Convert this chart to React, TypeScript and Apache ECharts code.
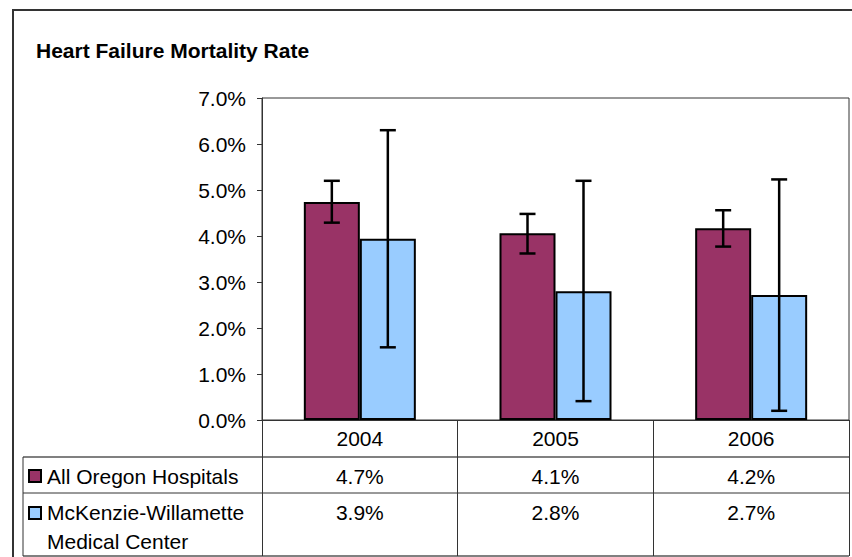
import { useEffect, useRef } from 'react';
import * as echarts from 'echarts';

const titleText = 'Heart Failure Mortality Rate';
const categories = ['2004', '2005', '2006'];
const seriesNames = ['All Oregon Hospitals', 'McKenzie-Willamette\nMedical Center'];
const oregonValues = [4.74, 4.06, 4.17];
const oregonHigh = [5.2, 4.48, 4.56];
const oregonLow = [4.29, 3.62, 3.77];
const mwValues = [3.94, 2.8, 2.72];
const mwHigh = [6.3, 5.2, 5.23];
const mwLow = [1.58, 0.41, 0.2];
const yMin = 0;
const yMax = 7;
const yInterval = 1;

const FONT = '"Liberation Sans", Arial, Helvetica, sans-serif';
const FS = 21;
const MAROON = '#993366';
const BLUE = '#99CCFF';
const LINE = '#333333';
const GRAY = '#808080';

const BAR_W = 56;
const CAP = 8;

function errorSeries(high: number[], low: number[], offset: number) {
  return {
    type: 'custom',
    silent: true,
    z: 10,
    encode: { x: 0, y: [1, 2] },
    data: categories.map((_, i) => [i, low[i], high[i]]),
    renderItem: (_p: any, api: any) => {
      const i = api.value(0);
      const top = api.coord([i, api.value(2)]);
      const bot = api.coord([i, api.value(1)]);
      const x = top[0] + offset;
      const st = { stroke: '#000', lineWidth: 2.5 };
      return {
        type: 'group',
        children: [
          { type: 'line', shape: { x1: x, y1: top[1], x2: x, y2: bot[1] }, style: st },
          { type: 'line', shape: { x1: x - CAP, y1: top[1], x2: x + CAP, y2: top[1] }, style: st },
          { type: 'line', shape: { x1: x - CAP, y1: bot[1], x2: x + CAP, y2: bot[1] }, style: st },
        ],
      };
    },
  };
}

function textStyle(x: number, y: number, text: string, extra: any = {}) {
  return {
    x,
    y,
    text,
    fill: '#000',
    font: `${FS}px ${FONT}`,
    align: 'center',
    textAlign: 'center',
    verticalAlign: 'middle',
    textVerticalAlign: 'middle',
    ...extra,
  };
}

export default function App() {
  const ref = useRef<HTMLDivElement>(null);

  useEffect(() => {
    if (!ref.current) return;
    const chart = echarts.init(ref.current, null, { renderer: 'svg' });

    const tableSeries = {
      type: 'custom',
      silent: true,
      z: 5,
      clip: false,
      encode: { x: 0 },
      data: categories.map((_, i) => [i, oregonValues[i], mwValues[i]]),
      renderItem: (_p: any, api: any) => {
        const x = api.coord([api.value(0), 0])[0];
        return {
          type: 'group',
          children: [
            { type: 'text', style: textStyle(x, 476, api.value(1).toFixed(1) + '%') },
            { type: 'text', style: textStyle(x, 512, api.value(2).toFixed(1) + '%') },
          ],
        };
      },
    };

    chart.setOption({
      animation: false,
      backgroundColor: '#ffffff',
      grid: {
        left: 262,
        top: 98,
        right: 3,
        bottom: 137,
        show: true,
        borderColor: LINE,
        borderWidth: 1,
      },
      xAxis: {
        type: 'category',
        data: categories,
        axisLine: { show: true, lineStyle: { color: LINE, width: 1 } },
        axisTick: { show: true, length: 136, lineStyle: { color: LINE, width: 1 } },
        axisLabel: { color: '#000', fontSize: FS, fontFamily: FONT, margin: 8 },
        splitLine: { show: false },
      },
      yAxis: {
        type: 'value',
        min: yMin,
        max: yMax,
        interval: yInterval,
        axisLine: { show: true, lineStyle: { color: LINE, width: 1 } },
        axisTick: { show: true, length: 5, lineStyle: { color: LINE } },
        axisLabel: {
          color: '#000',
          fontSize: FS,
          fontFamily: FONT,
          margin: 16,
          formatter: (v: number) => v.toFixed(1) + '%',
        },
        splitLine: { show: false },
      },
      series: [
        {
          name: seriesNames[0],
          type: 'bar',
          data: oregonValues,
          barWidth: BAR_W,
          barGap: '0%',
          itemStyle: { color: MAROON, borderColor: '#000', borderWidth: 2 },
        },
        {
          name: seriesNames[1],
          type: 'bar',
          data: mwValues,
          barWidth: BAR_W,
          barGap: '0%',
          itemStyle: { color: BLUE, borderColor: '#000', borderWidth: 2 },
        },
        errorSeries(oregonHigh, oregonLow, -BAR_W / 2),
        errorSeries(mwHigh, mwLow, BAR_W / 2),
        tableSeries,
      ],
      graphic: [
        {
          type: 'rect',
          silent: true,
          shape: { x: 13, y: 10, width: 900, height: 600 },
          style: { fill: 'none', stroke: LINE, lineWidth: 2 },
          z: 0,
        },
        {
          type: 'text',
          style: {
            x: 36,
            y: 50,
            text: titleText,
            fill: '#000',
            font: `bold ${FS}px ${FONT}`,
            align: 'left',
            textAlign: 'left',
            verticalAlign: 'middle',
            textVerticalAlign: 'middle',
          },
        },
        { type: 'line', silent: true, shape: { x1: 23, y1: 457, x2: 849, y2: 457 }, style: { stroke: GRAY, lineWidth: 2 } },
        { type: 'line', silent: true, shape: { x1: 23, y1: 493, x2: 849, y2: 493 }, style: { stroke: LINE, lineWidth: 1 } },
        { type: 'line', silent: true, shape: { x1: 23, y1: 556, x2: 849, y2: 556 }, style: { stroke: GRAY, lineWidth: 2 } },
        { type: 'line', silent: true, shape: { x1: 23, y1: 457, x2: 23, y2: 556 }, style: { stroke: LINE, lineWidth: 1 } },
        {
          type: 'rect',
          shape: { x: 29, y: 470, width: 12, height: 12 },
          style: { fill: MAROON, stroke: '#000', lineWidth: 2 },
        },
        {
          type: 'rect',
          shape: { x: 29, y: 507, width: 12, height: 12 },
          style: { fill: BLUE, stroke: '#000', lineWidth: 2 },
        },
        {
          type: 'text',
          style: textStyle(47, 476, seriesNames[0], { align: 'left', textAlign: 'left' }),
        },
        {
          type: 'text',
          style: textStyle(47, 527, seriesNames[1], { align: 'left', textAlign: 'left', lineHeight: 29 }),
        },
      ],
    });

    return () => chart.dispose();
  }, []);

  return (
    <div
      ref={ref}
      style={{ position: 'fixed', left: 0, top: 0, width: 852, height: 557, background: '#fff' }}
    />
  );
}
